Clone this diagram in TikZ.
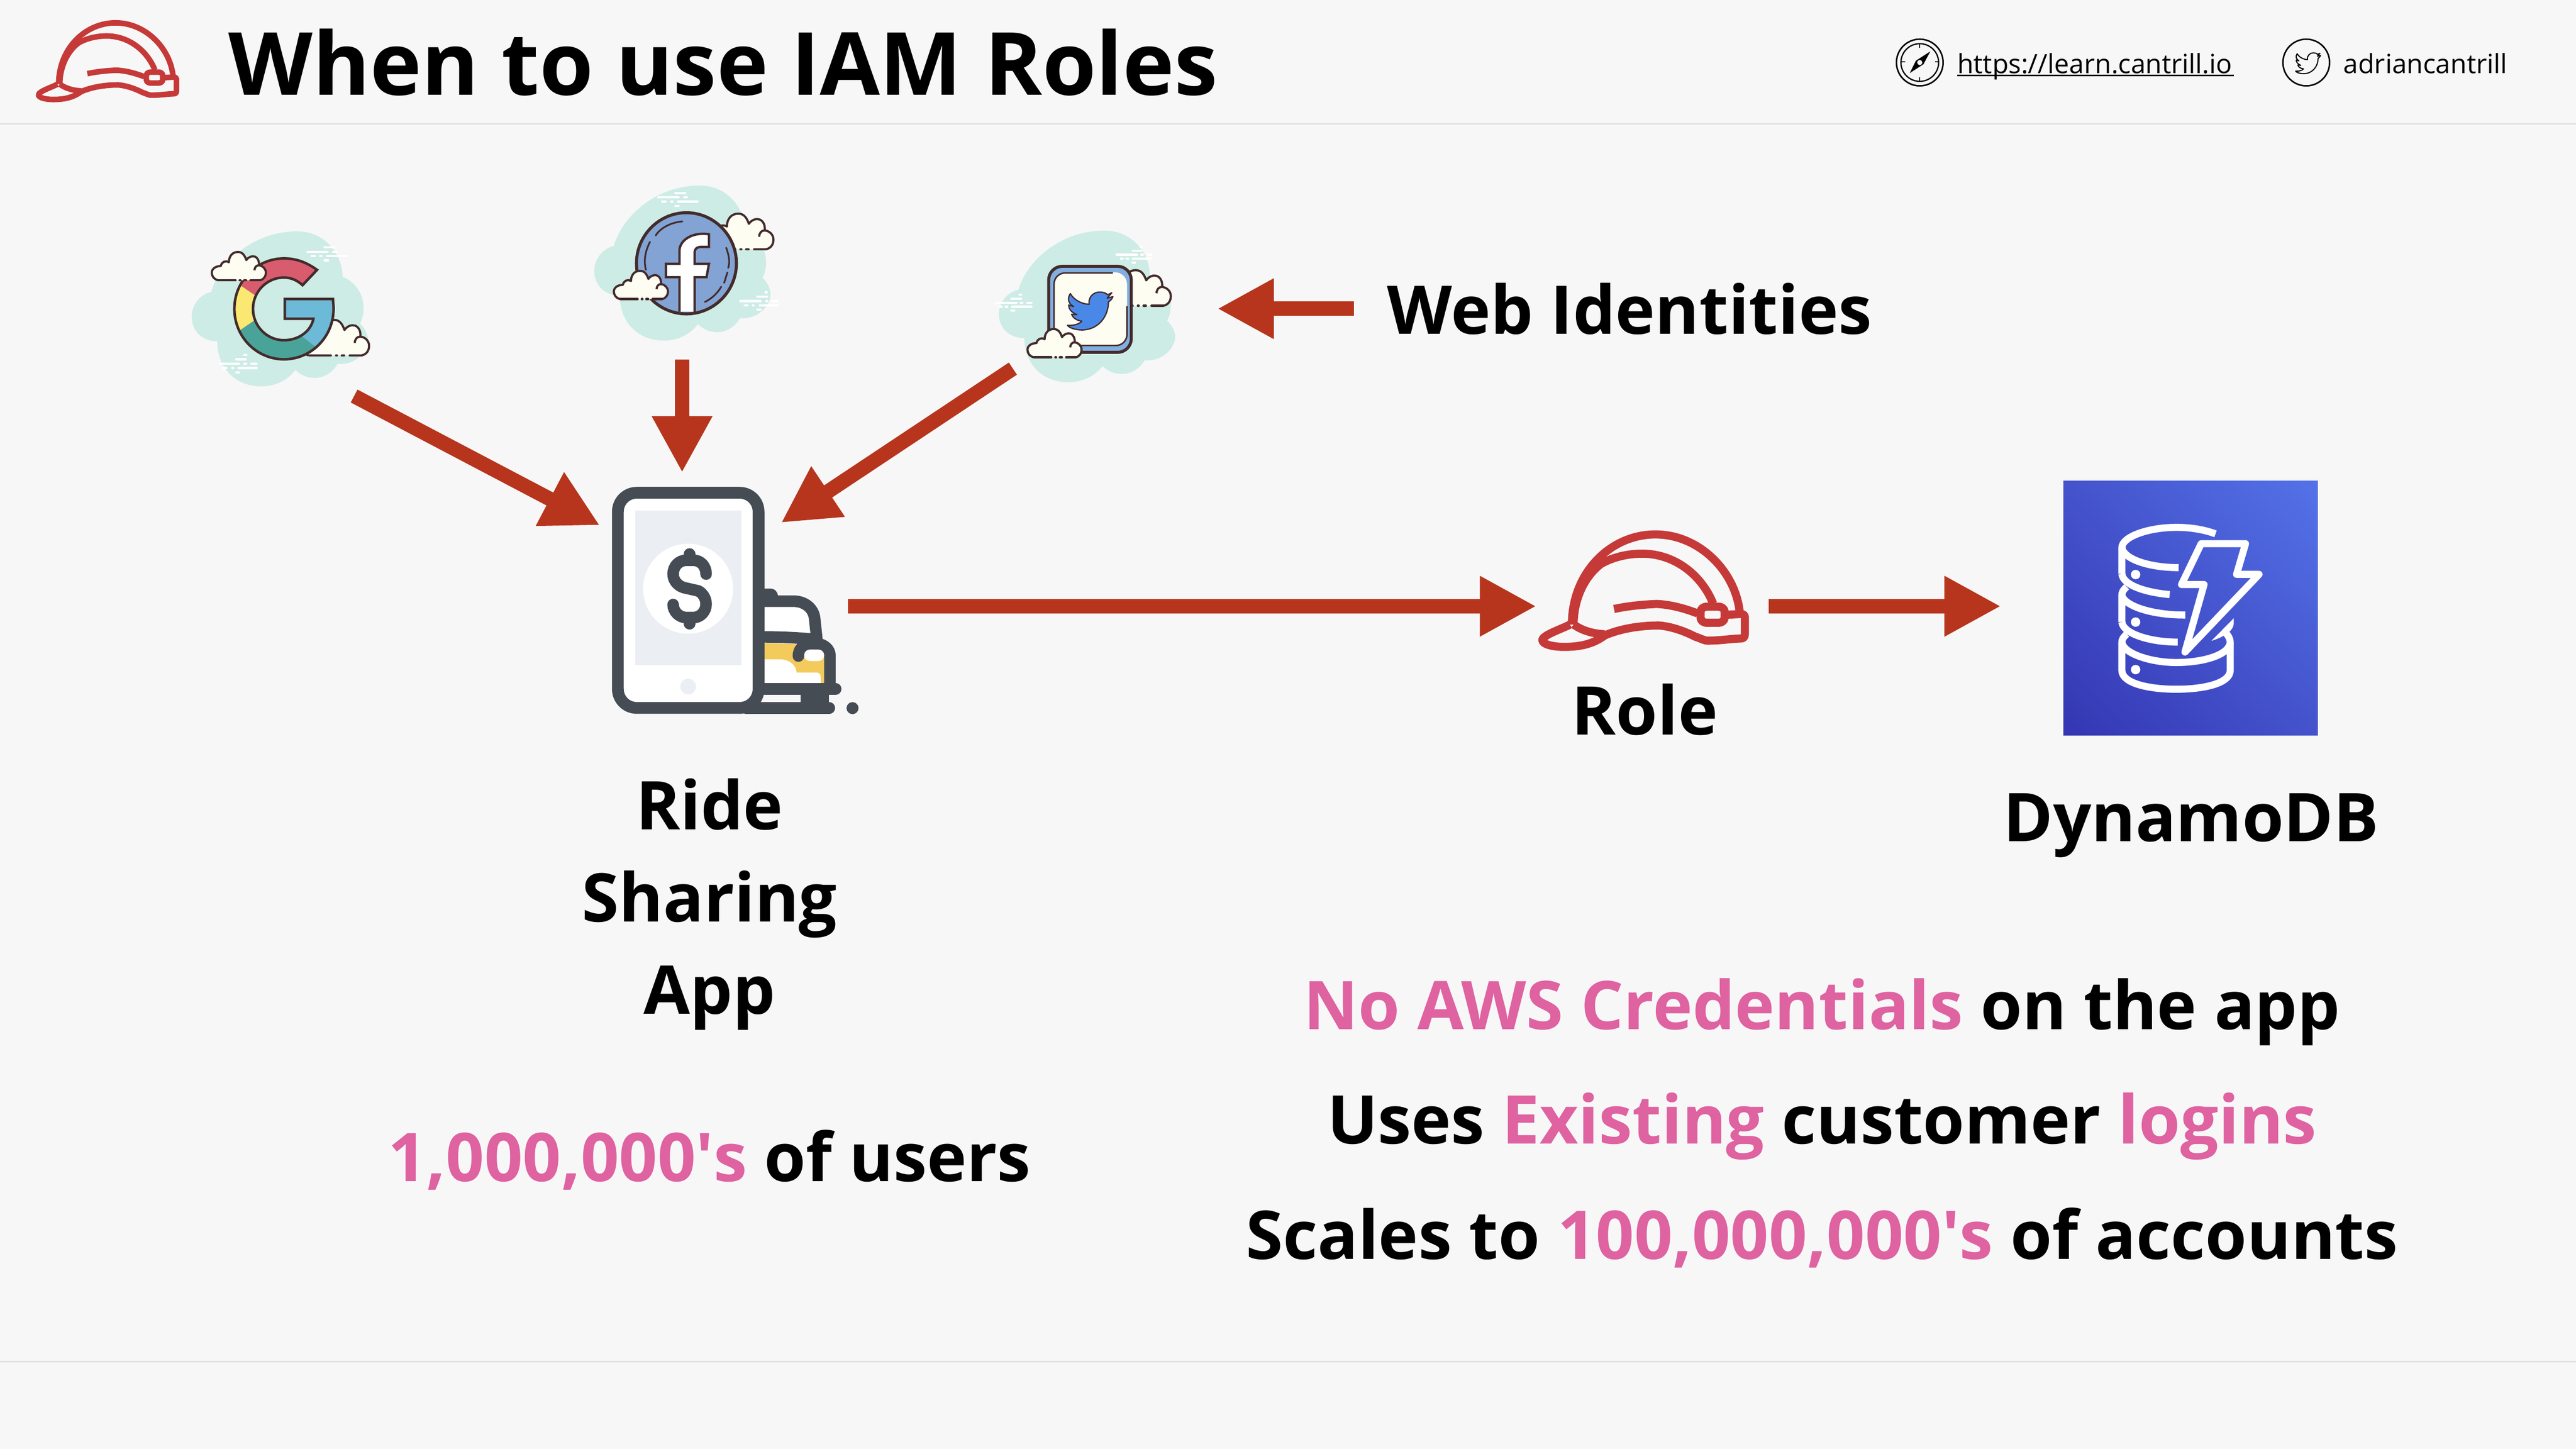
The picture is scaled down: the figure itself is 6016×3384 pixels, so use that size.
\documentclass[tikz,border=0pt]{standalone}
\usepackage{fontspec}
\setmainfont{Open Sans}
\newfontfamily\plainopen{Open Sans}
\usetikzlibrary{arrows.meta,shadings}
\definecolor{bgc}{HTML}{F7F7F7}
\definecolor{rulec}{HTML}{E2E2E2}
\definecolor{arrowc}{HTML}{B7351D}
\definecolor{hatc}{HTML}{C53A38}
\definecolor{pinkc}{HTML}{DF62A1}
\definecolor{mintc}{HTML}{CDECE5}
\definecolor{creamc}{HTML}{FEFDF2}
\definecolor{brownc}{HTML}{432B2B}
\definecolor{slatec}{HTML}{464C54}
\definecolor{screenc}{HTML}{EBEEF3}
\definecolor{taxic}{HTML}{F3CB5C}
\definecolor{fbc}{HTML}{82A3D3}
\definecolor{twframe}{HTML}{82AEE0}
\definecolor{twbird}{HTML}{4A88E8}
\definecolor{gred}{HTML}{D95C6E}
\definecolor{gyel}{HTML}{FAE872}
\definecolor{ggrn}{HTML}{4AA399}
\definecolor{gblu}{HTML}{6CBAD7}
\definecolor{dynlo}{HTML}{3436B2}
\definecolor{dynmid}{HTML}{4453CC}
\definecolor{dynhi}{HTML}{5472E8}
\tikzset{
  bigarrow/.style={draw=arrowc,line width=3.4pt,line cap=butt,
    -{Triangle[length=13.2pt,width=13.2pt,fill=arrowc]}},
  bodytext/.style={font=\fontsize{15.7}{18}\bfseries,anchor=base,inner sep=0pt},
  smalltext/.style={font=\fontsize{6.2}{8}\selectfont,anchor=base west,inner sep=0pt},
  dashw/.style={white,line width=0.5pt,line cap=round},
}
\newcommand{\apos}{{\plainopen\bfseries '}}
% helmet, in the coordinates of the header icon
\newcommand{\hardhat}[4]{%
\begin{scope}[shift={(#1,#2)},xscale=#3/2.613,yscale=#3/3,hatc,line width=#4,line join=round]
  \draw (358,590) .. controls (358,340) and (520,160) .. (705,160) .. controls (890,160) and (1040,340) .. (1056,535);
  \draw (365,590) .. controls (365,470) and (410,360) .. (480,300) .. controls (530,268) and (590,252) .. (650,252) .. controls (790,252) and (900,360) .. (945,490);
  \draw (350,590) .. controls (320,610) and (235,640) .. (235,665) .. controls (235,685) and (280,697) .. (325,697) .. controls (400,697) and (450,680) .. (495,642) .. controls (560,610) and (640,595) .. (720,595) .. controls (780,600) and (840,630) .. (870,648) .. controls (890,655) and (905,665) .. (918,667) .. controls (970,668) and (1020,658) .. (1060,657) .. controls (1072,657) and (1077,650) .. (1077,635) -- (1077,555) .. controls (1077,545) and (1070,540) .. (1060,540) -- (1000,544);
  \draw (365,590) .. controls (400,620) and (450,635) .. (495,637);
  \draw (533,516) .. controls (590,502) and (650,495) .. (710,492) .. controls (770,495) and (830,515) .. (880,537);
  \draw (920,505) -- (966,505) .. controls (982,505) and (993,515) .. (993,530) -- (993,557) .. controls (993,572) and (982,582) .. (966,582) -- (920,582) .. controls (904,582) and (893,572) .. (893,557) -- (893,530) .. controls (893,515) and (904,505) .. (920,505) -- cycle;
\end{scope}}
% mint blob, in the coordinates of the Google crop; #3 = vertical size
\newcommand{\mintblob}[3]{%
\begin{scope}[shift={(400+#1,400+#2)},xscale=1/1.425,yscale=#3/2.8]
  \fill[mintc] (133,790) .. controls (160,600) and (270,393) .. (420,393) .. controls (510,393) and (570,540) .. (570,690) .. controls (620,730) and (640,820) .. (640,895) .. controls (640,940) and (635,970) .. (628,995) .. controls (650,1040) and (655,1080) .. (655,1110) .. controls (650,1190) and (610,1270) .. (553,1260) .. controls (540,1310) and (510,1352) .. (478,1352) .. controls (450,1352) and (430,1330) .. (413,1300) .. controls (390,1360) and (350,1407) .. (300,1407) .. controls (210,1407) and (153,1280) .. (153,1112) .. controls (100,1112) and (68,1040) .. (68,950) .. controls (68,870) and (100,800) .. (133,790) -- cycle;
\end{scope}}
% small outlined cloud; #1,#2 = lower right corner, #3 = size
\newcommand{\puff}[3]{%
\begin{scope}[shift={(#1,#2)},xscale=#3/1.425,yscale=#3/2.8,shift={(-318,-714)},line width=0.5pt,line join=round,draw=brownc]
  \fill[creamc] (155,710) .. controls (140,700) and (135,680) .. (135,660) .. controls (135,635) and (148,617) .. (165,617) .. controls (168,590) and (180,578) .. (192,592) .. controls (192,550) and (205,525) .. (222,525) .. controls (238,525) and (245,550) .. (250,578) .. controls (258,555) and (270,550) .. (278,555) .. controls (290,565) and (293,590) .. (292,612) .. controls (305,615) and (315,635) .. (315,660) .. controls (315,685) and (308,705) .. (295,710) -- cycle;
  \draw (155,710) .. controls (140,700) and (135,680) .. (135,660) .. controls (135,635) and (148,617) .. (165,617) .. controls (168,590) and (180,578) .. (192,592) .. controls (192,550) and (205,525) .. (222,525) .. controls (238,525) and (245,550) .. (250,578) .. controls (258,555) and (270,550) .. (278,555) .. controls (290,565) and (293,590) .. (292,612) .. controls (305,615) and (315,635) .. (315,660) .. controls (315,685) and (308,705) .. (295,710);
  \draw (277,645) .. controls (278,625) and (283,612) .. (292,612);
  \draw[line width=0.55pt,line cap=round] (157,710) -- (214,710) (228,710) -- (230,710) (243,710) -- (249,710) (264,710) -- (295,710);
\end{scope}}
% twitter bird, in the coordinates of the crop of the facebook and twitter icons
\newcommand{\birdpath}{(1212,800) .. controls (1220,840) and (1240,870) .. (1258,870) .. controls (1255,820) and (1270,790) .. (1283,790) .. controls (1295,790) and (1300,800) .. (1303,808) -- (1313,795) -- (1302,830) -- (1316,820) .. controls (1314,835) and (1310,845) .. (1305,855) .. controls (1305,950) and (1280,1038) .. (1240,1038) .. controls (1225,1038) and (1210,1025) .. (1205,1008) .. controls (1222,1010) and (1235,998) .. (1240,980) .. controls (1225,975) and (1218,955) .. (1215,935) -- (1228,938) .. controls (1212,920) and (1208,895) .. (1208,875) -- (1220,885) .. controls (1205,860) and (1205,830) .. (1212,800) -- cycle}
\begin{document}
\begin{tikzpicture}[x=0.1pt,y=-0.1pt]
\useasboundingbox (0,0) rectangle (6016,3384);
\fill[bgc] (0,0) rectangle (6016,3384);
\fill[rulec] (0,288) rectangle (6016,291);
\fill[rulec] (0,3179) rectangle (6016,3182);

% header
\hardhat{0}{0}{1}{1.3pt}
\node[font=\fontsize{20.36}{24}\bfseries,anchor=base west,inner sep=0pt] (title) at (532,222) {When to use IAM Roles};
\draw[line width=0.35pt] (4483.4,146) circle[radius=54.5];
\draw[line width=0.3pt] (4483.4,146) circle[radius=44];
\draw[line width=0.2pt] (4483.4,102) -- (4483.4,112) (4483.4,180) -- (4483.4,190) (4439.4,144) -- (4449.4,144) (4519,144) -- (4529,144);
\fill (4508,120) -- (4492,150) -- (4460,170.7) -- (4474.4,141.7) -- cycle;
\fill[bgc] (4483.4,146) circle[radius=6];
\draw[line width=0.35pt] (5386,146) circle[radius=54.5];
\begin{scope}[shift={(5390,148)},xscale=0.55/1.045,yscale=0.55/2.8,shift={(-1260,-915)}]
  \draw[black,line width=0.25pt,line join=round] \birdpath;
\end{scope}
\node[smalltext] (site) at (4569,171) {https://learn.cantrill.io};
\fill (4571,174.5) rectangle (5217,177.5);
\node[smalltext] (handle) at (5471,171) {adriancantrill};

% Google
\mintblob{0}{0}{1}
\puff{864.6}{832}{1.26}
\begin{scope}[shift={(400,400)},xscale=1/1.425,yscale=1/2.8]
  \foreach \ya/\xa/\xb in {498/510/542,527/453/520,527/538/550,555/467/478,555/495/500,555/518/585,583/510/522,1202/243/250,1230/216/248,1259/160/226,1259/243/250,1259/266/284,1287/173/183,1287/203/206,1287/224/284,1315/216/226}
    \draw[dashw] (\xa,\ya) -- (\xb,\ya);
  \def\gpath{(485,645) .. controls (450,595) and (415,570) .. (375,570) .. controls (285,570) and (210,715) .. (210,900) .. controls (210,1085) and (285,1230) .. (375,1230) .. controls (465,1230) and (540,1085) .. (540,900) .. controls (540,878) and (539,857) .. (538,835) -- (378,835) -- (378,965) -- (473,965) .. controls (465,1045) and (425,1105) .. (375,1105) .. controls (318,1105) and (272,1013) .. (272,900) .. controls (272,787) and (318,695) .. (375,695) .. controls (400,695) and (420,715) .. (437,745) -- cycle}
  \begin{scope}
    \clip \gpath;
    \fill[gred] (150,500) rectangle (600,1300);
    \fill[gyel] (180,680) -- (300,840) -- (300,945) -- (180,1105) -- cycle;
    \fill[ggrn] (180,1105) -- (300,945) -- (420,1057) -- (490,1163) -- (500,1300) -- (150,1300) -- cycle;
    \fill[gblu] (420,1057) -- (490,1163) -- (600,1163) -- (600,800) -- (375,800) -- (375,1000) -- cycle;
  \end{scope}
  \draw[brownc,line width=0.6pt,line join=miter] \gpath;
\end{scope}
\puff{623}{656}{1}

% Facebook
\mintblob{940}{-107}{1}
\puff{1809}{584}{1.26}
\begin{scope}[shift={(1340,400)},xscale=1/1.045,yscale=1/2.8]
  \foreach \ya/\xa/\xb in {143/248/272,171/206/256,171/270/276,199/216/224,199/238/241,199/254/302,227/248/256,792/468/471,820/448/472,849/406/456,849/470/472,849/484/497,877/417/424,877/437/439,877/454/498,905/448/456}
    \draw[dashw] (\xa,\ya) -- (\xb,\ya);
  \draw[brownc,fill=fbc,line width=0.7pt] (153,602) .. controls (153,420) and (208,271) .. (275,271) .. controls (342,271) and (397,420) .. (397,602) .. controls (397,784) and (342,933) .. (275,933) .. controls (208,933) and (153,784) .. (153,602) -- cycle;
  \draw[brownc,line width=0.4pt,line cap=round] (265,328) .. controls (235,335) and (210,375) .. (200,420) (186,462) .. controls (175,520) and (170,580) .. (176,645) (372,500) .. controls (378,545) and (382,590) .. (377,632) (375,662) -- (367,730) (360,755) .. controls (350,800) and (338,830) .. (320,855);
  \fill[white] (258,918) -- (258,693) -- (225,693) -- (225,605) -- (258,605) -- (258,520) .. controls (258,450) and (290,395) .. (330,412) -- (330,495) -- (310,495) .. controls (300,495) and (295,510) .. (295,530) -- (295,605) -- (330,605) -- (324,693) -- (295,693) -- (295,918) -- cycle;
  \draw[brownc,line width=0.55pt] (258,918) -- (258,693) -- (225,693) -- (225,605) -- (258,605) -- (258,520) .. controls (258,450) and (290,395) .. (330,412) -- (330,495) -- (310,495) .. controls (300,495) and (295,510) .. (295,530) -- (295,605) -- (330,605) -- (324,693) -- (295,693) -- (295,918);
\end{scope}
\puff{1562}{700}{1}

% Twitter
\mintblob{1885}{1.3}{0.978}
\puff{2737}{716}{1.26}
\begin{scope}[shift={(1340,400)},xscale=1/1.045,yscale=1/2.8]
  \foreach \ya/\xa/\xb in {493/1383/1387,520/1364/1385,546/1325/1375,546/1385/1389,546/1402/1410,572/1335/1340,572/1349/1353,572/1364/1410,599/1364/1370,808/1088/1092,834/1068/1092,860/1031/1080,860/1091/1095,860/1107/1117,886/1040/1044,886/1054/1058,886/1070/1117,912/1068/1075}
    \draw[dashw] (\xa,\ya) -- (\xb,\ya);
\end{scope}
\draw[brownc,fill=twframe,line width=0.7pt,rounded corners=3.2pt] (2449,622) rectangle (2642,823);
\fill[creamc,rounded corners=2.8pt] (2461.6,636) rectangle (2632,808);
\draw[brownc,line width=0.35pt,rounded corners=2.6pt] (2599,637.5) -- (2461.6,637.5) -- (2461.6,808);
\draw[brownc,line width=0.35pt,rounded corners=2.6pt] (2632,715) -- (2632,807) -- (2500,807);
\begin{scope}[shift={(1340,400)},xscale=1/1.045,yscale=1/2.8]
  \draw[brownc,fill=twbird,line width=0.3pt,line join=round] \birdpath;
\end{scope}
\puff{2528}{836}{1}

% ride sharing app
\begin{scope}[shift={(1340,1100)},xscale=1/2.24,yscale=1/2.613]
  \fill[white] (985,830) -- (1155,830) .. controls (1200,830) and (1225,860) .. (1228,900) -- (1237,993) .. controls (1150,985) and (1070,978) .. (985,977) -- cycle;
  \fill[taxic] (985,1050) -- (1165,1057) -- (1270,1060) -- (1310,1100) -- (1310,1295) -- (985,1295) -- cycle;
  \fill[white] (985,1150) -- (1080,1150) .. controls (1130,1150) and (1165,1190) .. (1165,1230) -- (1270,1230) .. controls (1285,1230) and (1292,1245) .. (1292,1260) -- (1292,1295) -- (985,1295) -- cycle;
  \begin{scope}[slatec,line width=2.7pt]
    \draw (985,795) -- (1150,795) .. controls (1210,795) and (1255,840) .. (1260,900) -- (1272,1030);
    \fill (985,718) -- (1030,718) .. controls (1050,718) and (1065,735) .. (1068,760) -- (1068,800) -- (985,800) -- cycle;
    \draw (985,1013) .. controls (1100,1013) and (1200,1020) .. (1272,1030);
    \draw[line cap=round] (1175,1130) .. controls (1175,1090) and (1200,1055) .. (1240,1055) -- (1270,1055) .. controls (1310,1055) and (1340,1090) .. (1340,1125) -- (1340,1330);
    \draw[line cap=round] (985,1330) -- (1370,1330);
    \fill (1188,1340) rectangle (1335,1470);
    \draw[line cap=round] (900,1447) -- (1337,1447);
  \end{scope}
  \fill[white] (1235,1090) -- (1280,1090) .. controls (1297,1090) and (1310,1106) .. (1310,1125) .. controls (1310,1144) and (1297,1160) .. (1280,1160) -- (1235,1160) .. controls (1218,1160) and (1205,1144) .. (1205,1125) .. controls (1205,1106) and (1218,1090) .. (1235,1090) -- cycle;
\end{scope}
\fill[slatec] (1991,1654) circle[radius=14];
\draw[slatec,fill=white,line width=2.75pt,rounded corners=4.4pt] (1443,1151) rectangle (1771.5,1653.5);
\fill[screenc] (1484,1192.6) rectangle (1731,1553);
\fill[white] (1607,1375) circle[radius=105];
\fill[screenc] (1607,1603.6) circle[radius=18.3];
\begin{scope}[slatec,line width=2.7pt,line cap=round]
  \draw (1649,1341) .. controls (1649,1322) and (1636,1308.6) .. (1619,1308.6) -- (1603,1308.6) .. controls (1586,1308.6) and (1572,1322) .. (1572,1341) .. controls (1572,1355) and (1582,1368) .. (1597,1372.5) -- (1630,1380) .. controls (1640,1384) and (1649,1397) .. (1649,1411) .. controls (1649,1428) and (1636,1442.5) .. (1619,1442.5) -- (1603,1442.5) .. controls (1586,1442.5) and (1572,1428) .. (1572,1412);
  \draw (1610.5,1294) -- (1610.5,1308) (1610.5,1443) -- (1610.5,1457);
\end{scope}

% role and DynamoDB
\hardhat{3470}{1170}{1.4675}{1.9pt}
\shade[lower left=dynlo,upper right=dynhi,upper left=dynmid,lower right=dynmid] (4819,1123) rectangle (5413,1717.5);
\begin{scope}[shift={(4750,1080)},xscale=1/2.24,yscale=1/2.306,white,line width=1.65pt]
  \draw (460,600) -- (460,460) .. controls (460,400) and (600,350) .. (745,350) .. controls (820,350) and (890,362) .. (950,385);
  \draw (460,460) .. controls (470,520) and (600,567) .. (757,567);
  \draw (460,600) .. controls (465,660) and (580,700) .. (710,712);
  \draw (485,670) .. controls (465,690) and (460,700) .. (460,715) -- (460,860);
  \draw (460,715) .. controls (470,770) and (610,823) .. (792,822);
  \draw (460,860) .. controls (465,920) and (600,968) .. (752,968);
  \draw (485,925) .. controls (465,945) and (460,955) .. (460,970) -- (460,1120) .. controls (460,1190) and (600,1222) .. (745,1222) .. controls (890,1222) and (1027,1190) .. (1027,1120) -- (1027,970) .. controls (1027,950) and (1015,930) .. (1003,918);
  \draw (460,970) .. controls (470,1030) and (610,1078) .. (745,1078) .. controls (880,1078) and (1020,1040) .. (1027,970);
  \fill (1045,840) -- (1045,870) .. controls (1045,885) and (1035,900) .. (1020,915) -- (990,935) .. controls (965,950) and (945,955) .. (928,962) -- cycle;
  \draw[line join=round] (875,438) -- (1107,438) -- (1060,603) -- (1178,603) -- (790,1022) -- (890,658) -- (772,658) -- cycle;
\end{scope}
\fill[white] (4987.5,1342) circle[radius=11] (4987.5,1453) circle[radius=11] (4987.5,1564) circle[radius=11];

% arrows
\coordinate (gtail) at (827,925);
\coordinate (gtip) at (1401,1227);
\coordinate (ftail) at (1593,840);
\coordinate (ftip) at (1593,1104);
\coordinate (ttail) at (2365.5,861);
\coordinate (ttip) at (1824,1221);
\coordinate (wtail) at (3162,721);
\coordinate (wtip) at (2843,721);
\coordinate (atail) at (1980,1416);
\coordinate (atip) at (3588,1416);
\coordinate (rtail) at (4131,1416);
\coordinate (rtip) at (4673,1416);
\draw[bigarrow] (gtail) -- (gtip);
\draw[bigarrow] (ftail) -- (ftip);
\draw[bigarrow] (ttail) -- (ttip);
\draw[bigarrow] (wtail) -- (wtip);
\draw[bigarrow] (atail) -- (atip);
\draw[bigarrow] (rtail) -- (rtip);

% labels
\node[bodytext,anchor=base west] (web) at (3238,780) {Web Identities};
\node[bodytext] (role) at (3841,1716) {Role};
\node[bodytext] (ride) at (1657,1938) {Ride};
\node[bodytext] (sharing) at (1657,2153) {Sharing};
\node[bodytext] (app) at (1657,2368) {App};
\node[bodytext] (dynamo) at (5117,1965) {DynamoDB};
\node[bodytext] (users) at (1657,2760) {\textcolor{pinkc}{1,000,000\apos s} of users};
\node[bodytext] (creds) at (4255,2404) {\textcolor{pinkc}{No AWS Credentials} on the app};
\node[bodytext] (logins) at (4255,2672) {Uses \textcolor{pinkc}{Existing} customer \textcolor{pinkc}{logins}};
\node[bodytext] (scale) at (4255,2941) {Scales to \textcolor{pinkc}{100,000,000\apos s} of accounts};
\end{tikzpicture}
\end{document}
